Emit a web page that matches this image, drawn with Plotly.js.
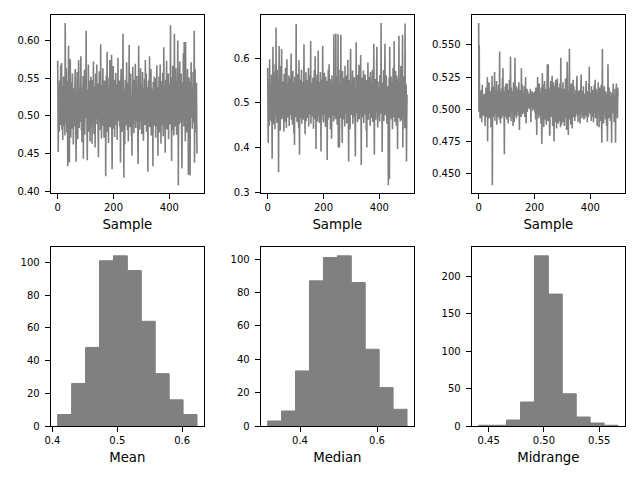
<!DOCTYPE html>
<html><head><meta charset="utf-8">
<script src="https://cdn.plot.ly/plotly-3.0.1.min.js"></script>
<style>html,body{margin:0;padding:0;background:#fff}#chart{width:640px;height:480px}</style>
</head><body><div id="chart"></div>
<script>
// Sample means (500 samples)
const sampleMean = [
.573,.521,.452,.498,.536,.511,.479,.547,.503,.488,.529,.567,.494,.515,.570,.482,.506,.539,.468,.513,
.497,.552,.518,.486,.531,.505,.474,.623,.541,.509,.491,.563,.522,.478,.512,.546,.433,.501,.527,.593,
.516,.489,.438,.524,.507,.575,.532,.471,.498,.519,.545,.483,.511,.556,.493,.528,.462,.504,.537,.515,
.486,.523,.549,.562,.509,.477,.439,.514,.531,.496,.558,.502,.469,.525,.541,.574,.508,.484,.519,.536,
.492,.511,.547,.579,.524,.481,.506,.465,.538,.517,.499,.553,.443,.527,.489,.512,.561,.475,.533,.502,
.518,.544,.613,.497,.526,.483,.441,.509,.535,.491,.568,.514,.479,.523,.502,.547,.466,.529,.505,.552,
.487,.515,.531,.463,.507,.548,.522,.494,.572,.511,.476,.539,.501,.524,.458,.517,.556,.496,.533,.508,
.568,.489,.521,.543,.504,.476,.445,.528,.512,.559,.493,.536,.517,.481,.595,.506,.529,.470,.514,.541,
.498,.525,.563,.487,.512,.534,.471,.518,.547,.502,.491,.529,.420,.508,.553,.496,.522,.585,.479,.516,
.537,.503,.464,.526,.551,.492,.518,.574,.485,.509,.532,.497,.544,.581,.475,.429,.513,.538,.501,.566,
.483,.521,.507,.548,.472,.529,.515,.496,.557,.504,.488,.535,.519,.468,.542,.511,.577,.493,.526,.499,
.514,.547,.486,.523,.505,.438,.531,.562,.497,.518,.541,.479,.509,.553,.609,.492,.527,.418,.506,.536,
.462,.519,.548,.503,.487,.534,.512,.571,.495,.527,.481,.544,.508,.466,.523,.539,.594,.501,.517,.485,
.532,.556,.498,.514,.473,.526,.447,.509,.541,.565,.490,.518,.535,.477,.503,.548,.521,.496,.569,.512,
.484,.527,.506,.553,.492,.519,.537,.471,.436,.512,.593,.528,.499,.545,.482,.516,.534,.563,.493,.508,
.541,.476,.522,.509,.558,.495,.527,.467,.513,.536,.502,.549,.488,.519,.574,.531,.497,.556,.479,.515,
.504,.538,.523,.426,.511,.547,.492,.528,.507,.579,.485,.516,.542,.499,.562,.474,.521,.508,.536,.493,
.517,.433,.545,.506,.529,.487,.552,.513,.498,.550,.534,.471,.519,.541,.503,.567,.486,.525,.511,.447,
.538,.496,.514,.552,.478,.527,.505,.568,.491,.519,.463,.534,.509,.546,.488,.522,.557,.501,.473,.529,
.591,.512,.487,.535,.503,.451,.526,.548,.496,.517,.573,.482,.508,.539,.494,.521,.556,.469,.514,.531,
.506,.543,.489,.527,.620,.512,.551,.497,.440,.524,.536,.481,.566,.509,.492,.528,.474,.545,.609,.503,
.519,.486,.538,.563,.501,.527,.475,.514,.547,.496,.600,.532,.408,.511,.556,.489,.523,.572,.498,.517,
.534,.491,.556,.509,.473,.430,.528,.517,.545,.499,.583,.512,.486,.598,.524,.507,.539,.466,.598,.521,
.495,.541,.513,.478,.529,.562,.504,.536,.422,.518,.551,.493,.527,.485,.421,.546,.509,.532,.571,.497,
.514,.539,.483,.526,.505,.558,.491,.523,.547,.613,.438,.517,.562,.496,.531,.478,.509,.544,.487,.450
];
// Sample medians
const sampleMedian = [
.578,.486,.410,.552,.471,.533,.449,.597,.508,.462,.541,.495,.527,.458,.563,.483,.375,.519,.544,.625,
.476,.531,.452,.568,.497,.515,.441,.586,.503,.469,.668,.487,.538,.455,.574,.512,.466,.549,.493,.345,
.528,.627,.474,.511,.559,.438,.506,.582,.481,.534,.620,.463,.517,.491,.548,.472,.526,.509,.436,.565,
.494,.537,.457,.521,.578,.486,.513,.444,.552,.597,.478,.529,.502,.467,.543,.491,.561,.448,.518,.535,
.473,.556,.499,.524,.610,.462,.537,.488,.515,.451,.571,.507,.479,.546,.432,.522,.406,.558,.493,.531,
.468,.512,.676,.485,.539,.457,.526,.501,.564,.474,.518,.443,.595,.491,.384,.533,.507,.552,.465,.521,
.496,.574,.453,.512,.538,.479,.547,.462,.503,.529,.631,.488,.516,.471,.430,.544,.497,.568,.459,.523,
.482,.551,.509,.466,.534,.492,.578,.447,.517,.539,.474,.506,.562,.488,.638,.453,.521,.498,.545,.469,
.528,.484,.556,.511,.442,.537,.495,.573,.463,.519,.604,.478,.531,.397,.549,.505,.486,.563,.458,.525,
.492,.616,.471,.538,.503,.455,.547,.516,.482,.569,.497,.391,.534,.461,.552,.509,.474,.627,.488,.521,
.456,.543,.498,.567,.475,.512,.531,.446,.558,.493,.521,.478,.549,.372,.505,.536,.462,.574,.501,.484,
.586,.467,.529,.495,.553,.441,.516,.538,.479,.420,.561,.504,.473,.545,.489,.527,.458,.653,.496,.532,
.471,.548,.512,.463,.655,.497,.524,.483,.559,.451,.536,.505,.653,.400,.518,.574,.477,.400,.541,.492,
.529,.466,.652,.503,.487,.547,.458,.410,.571,.512,.484,.538,.499,.463,.556,.521,.447,.583,.506,.475,
.535,.492,.561,.454,.517,.543,.478,.596,.502,.463,.369,.528,.486,.551,.512,.441,.567,.620,.494,.529,
.473,.546,.508,.487,.572,.453,.523,.497,.539,.468,.557,.481,.515,.446,.380,.533,.501,.635,.476,.524,
.489,.562,.457,.518,.541,.472,.508,.585,.463,.531,.496,.549,.478,.607,.514,.361,.527,.484,.556,.501,
.468,.538,.493,.572,.455,.519,.545,.482,.509,.563,.474,.527,.498,.438,.551,.400,.516,.541,.487,.590,
.462,.534,.503,.478,.558,.491,.524,.449,.569,.512,.483,.547,.466,.529,.501,.574,.457,.518,.536,.488,
.632,.496,.384,.541,.473,.553,.507,.462,.528,.489,.566,.625,.481,.517,.445,.548,.502,.471,.536,.493,
.519,.458,.562,.497,.531,.476,.678,.488,.513,.545,.390,.524,.467,.539,.501,.573,.459,.527,.493,.548,
.632,.472,.515,.543,.484,.561,.499,.453,.528,.506,.477,.537,.316,.519,.491,.556,.330,.625,.508,.469,
.534,.487,.559,.463,.521,.496,.547,.441,.512,.578,.483,.526,.468,.638,.502,.539,.457,.514,.571,.486,
.523,.448,.561,.497,.532,.397,.515,.479,.553,.504,.650,.466,.529,.491,.544,.458,.517,.582,.473,.538,
.499,.461,.547,.652,.400,.512,.486,.534,.471,.559,.508,.443,.677,.482,.526,.495,.541,.369,.464,.518
];
// Sample midranges
const sampleMidrange = [
.567,.498,.550,.506,.513,.493,.502,.509,.497,.515,.501,.490,.507,.519,.499,.504,.511,.495,.503,.508,
.512,.496,.505,.487,.509,.500,.517,.494,.503,.510,.498,.525,.475,.506,.513,.497,.502,.521,.493,.508,
.501,.514,.495,.509,.486,.504,.517,.499,.526,.441,.507,.512,.494,.503,.518,.498,.506,.529,.491,.510,
.503,.515,.496,.507,.522,.488,.509,.500,.514,.494,.505,.519,.497,.511,.492,.545,.502,.513,.489,.506,
.510,.499,.516,.493,.507,.524,.501,.532,.495,.508,.514,.497,.465,.511,.503,.518,.494,.506,.520,.498,
.513,.492,.520,.503,.509,.496,.489,.515,.501,.507,.523,.494,.510,.498,.541,.505,.491,.517,.502,.508,
.499,.514,.504,.487,.511,.521,.496,.490,.508,.503,.540,.495,.512,.500,.518,.493,.507,.515,.498,.510,
.504,.517,.495,.509,.521,.500,.484,.512,.503,.497,.515,.506,.494,.532,.501,.511,.496,.519,.505,.499,
.508,.513,.497,.504,.518,.494,.510,.502,.525,.499,.489,.511,.505,.516,.498,.507,.514,.501,.509,.503,
.506,.512,.500,.508,.503,.516,.505,.490,.511,.502,.509,.514,.504,.507,.499,.511,.505,.513,.500,.508,
.503,.514,.497,.509,.492,.517,.505,.498,.480,.511,.502,.525,.496,.508,.515,.493,.504,.520,.499,.510,
.495,.513,.506,.489,.517,.502,.473,.497,.528,.508,.494,.519,.503,.486,.511,.500,.522,.492,.509,.516,
.498,.507,.488,.514,.502,.520,.535,.496,.491,.535,.506,.515,.493,.510,.480,.480,.517,.501,.522,.494,
.508,.516,.497,.526,.503,.487,.513,.499,.521,.492,.475,.510,.502,.518,.490,.507,.523,.496,.511,.485,
.514,.500,.524,.493,.508,.489,.517,.504,.497,.512,.491,.520,.503,.486,.540,.507,.495,.488,.516,.501,
.494,.511,.521,.490,.507,.498,.516,.487,.504,.513,.496,.524,.493,.509,.500,.484,.518,.537,.497,.508,
.503,.480,.514,.495,.522,.547,.492,.509,.499,.517,.488,.506,.520,.496,.511,.485,.513,.500,.523,.494,
.506,.518,.497,.512,.491,.508,.502,.494,.515,.499,.509,.521,.526,.496,.510,.503,.490,.514,.501,.507,
.496,.515,.503,.489,.510,.500,.519,.527,.497,.508,.493,.514,.502,.509,.495,.518,.501,.492,.511,.505,
.493,.512,.498,.507,.517,.522,.495,.510,.503,.490,.514,.499,.508,.494,.520,.502,.533,.497,.509,.504,
.513,.496,.507,.491,.518,.494,.510,.504,.498,.515,.500,.490,.509,.503,.519,.497,.507,.523,.493,.511,
.502,.516,.495,.508,.487,.513,.499,.506,.521,.497,.510,.486,.504,.517,.496,.508,.491,.512,.501,.519,
.494,.474,.509,.547,.498,.505,.515,.489,.507,.501,.518,.496,.510,.503,.492,.514,.500,.508,.487,.506,
.512,.475,.500,.535,.504,.509,.493,.517,.502,.496,.514,.507,.491,.510,.495,.506,.474,.513,.499,.508,
.497,.514,.520,.498,.507,.490,.511,.504,.496,.516,.474,.502,.509,.520,.497,.512,.503,.493,.517,.510
];
// Histogram counts (10 bins each)
const meanCounts = [7, 26, 48, 101, 104, 95, 64, 32, 16, 7];
const medianCounts = [3, 9, 33, 87, 101, 102, 86, 46, 23, 10];
const midrangeCounts = [1, 1, 8, 32, 227, 176, 43, 12, 4, 1];
const statLabels = ['Mean', 'Median', 'Midrange'];
const sampleLabel = 'Sample';

const seriesList = [sampleMean, sampleMedian, sampleMidrange];
const countList = [meanCounts, medianCounts, midrangeCounts];
const GRAY = '#808080';
const FONT = 'DejaVu Sans';
const xDom = [[50.7/640, 204/640], [260.7/640, 414/640], [471.7/640, 625/640]];
const yTop = [1 - 193.3/480, 1 - 15/480];
const yBot = [1 - 426/480, 1 - 247.3/480];
const topYTicks = [{dtick: 0.05, fmt: '.2f'}, {dtick: 0.1, fmt: '.1f'}, {dtick: 0.025, fmt: '.3f'}];
const histXTicks = [{dtick: 0.1, fmt: '.1f'}, {dtick: 0.2, fmt: '.1f'}, {dtick: 0.05, fmt: '.2f'}];
const histYDtick = [20, 20, 50];

function padRange(lo, hi) { const m = 0.05 * (hi - lo); return [lo - m, hi + m]; }
function axisBase() {
  return {showline: true, mirror: true, linecolor: '#000', linewidth: 1,
    ticks: 'outside', ticklen: 5, tickwidth: 1, tickcolor: '#000',
    showgrid: false, zeroline: false, fixedrange: true,
    tickfont: {family: FONT, size: 10, color: '#000'}};
}

const traces = [];
const layout = {
  width: 640, height: 480, margin: {l: 0, r: 0, t: 0, b: 0},
  showlegend: false, paper_bgcolor: '#fff', plot_bgcolor: '#fff',
  font: {family: FONT, size: 10, color: '#000'}
};

seriesList.forEach((s, i) => {
  const tn = i + 1, bn = i + 4;
  const tx = tn === 1 ? 'x' : 'x' + tn, ty = tn === 1 ? 'y' : 'y' + tn;
  const bx = 'x' + bn, by = 'y' + bn;
  const idx = s.map((_, k) => k);
  const lo = Math.min(...s), hi = Math.max(...s);
  traces.push({type: 'scatter', mode: 'lines', x: idx, y: s, xaxis: tx, yaxis: ty,
    line: {color: GRAY, width: 1.6, simplify: false}, hoverinfo: 'skip'});

  const counts = countList[i];
  const w = (hi - lo) / counts.length;
  const centers = counts.map((_, k) => lo + (k + 0.5) * w);
  traces.push({type: 'bar', x: centers, y: counts, width: counts.map(() => w),
    xaxis: bx, yaxis: by, marker: {color: GRAY, line: {color: GRAY, width: 1}}, hoverinfo: 'skip'});

  layout['xaxis' + (tn === 1 ? '' : tn)] = Object.assign(axisBase(), {
    domain: xDom[i], anchor: ty, range: padRange(0, s.length - 1),
    tick0: 0, dtick: 200,
    title: {text: sampleLabel, font: {family: FONT, size: 13.3, color: '#000'}, standoff: 7}
  });
  layout['yaxis' + (tn === 1 ? '' : tn)] = Object.assign(axisBase(), {
    domain: yTop, anchor: tx, range: padRange(lo, hi), ticklabelstandoff: 3,
    tick0: 0, dtick: topYTicks[i].dtick, tickformat: topYTicks[i].fmt
  });
  layout['xaxis' + bn] = Object.assign(axisBase(), {
    domain: xDom[i], anchor: by, range: padRange(lo, hi),
    tick0: 0, dtick: histXTicks[i].dtick, tickformat: histXTicks[i].fmt,
    title: {text: statLabels[i], font: {family: FONT, size: 13.3, color: '#000'}, standoff: 7}
  });
  layout['yaxis' + bn] = Object.assign(axisBase(), {
    domain: yBot, anchor: bx, range: [0, 1.05 * Math.max(...counts)], ticklabelstandoff: 3,
    tick0: 0, dtick: histYDtick[i]
  });
});

Plotly.newPlot('chart', traces, layout, {displayModeBar: false, staticPlot: true});
</script>
</body></html>
